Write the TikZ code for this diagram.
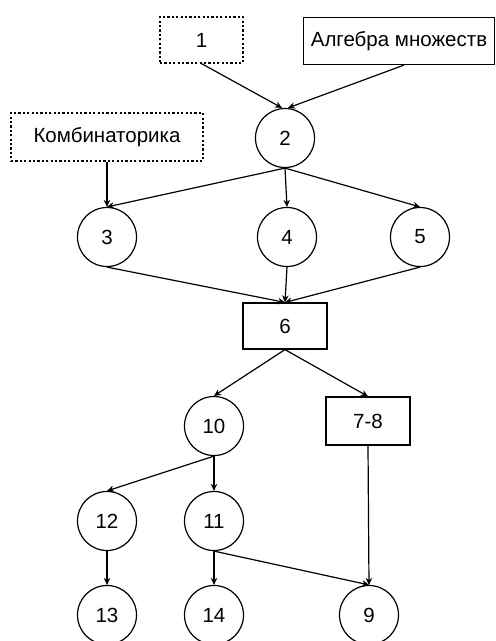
\documentclass[tikz,border=0pt]{standalone}
\usepackage{fontspec}
\setmainfont{Liberation Sans}
\usetikzlibrary{arrows.meta}
\begin{document}
\begin{tikzpicture}[x=1pt,y=-1pt,
  every node/.style={font=\fontsize{20.5}{24}\selectfont, line width=1.2pt},
  circ/.style={draw, circle, minimum size=59pt, inner sep=0pt},
  rbox/.style={draw, rectangle, inner sep=0pt},
  dbox/.style={draw, rectangle, inner sep=0pt, dash pattern=on 2.2pt off 2.2pt},
  arr/.style={-{Stealth[length=7pt,width=6.5pt]}, line width=1.2pt}]
\useasboundingbox (0,0) rectangle (496,641);
\node[dbox, minimum width=83pt, minimum height=46pt] (n1) at (201.5,40) {1};
\node[rbox, minimum width=191pt, minimum height=47pt] (alg) at (399,41) {Алгебра множеств};
\node[circ] (n2) at (285,138) {2};
\node[dbox, minimum width=192pt, minimum height=48pt] (komb) at (107,137) {Комбинаторика};
\node[circ] (n3) at (107,237) {3};
\node[circ] (n4) at (287,237) {4};
\node[circ] (n5) at (420,237) {5};
\node[rbox, minimum width=84pt, minimum height=46pt] (n6) at (285,326) {6};
\node[circ] (n10) at (214,426) {10};
\node[rbox, minimum width=84pt, minimum height=48pt] (n78) at (368,421) {7-8};
\node[circ] (n12) at (107,521) {12};
\node[circ] (n11) at (214,521) {11};
\node[circ] (n13) at (107,615) {13};
\node[circ] (n14) at (214,615) {14};
\node[circ] (n9) at (369,615) {9};
\draw[arr] (n1.south) -- ([xshift=-3pt]n2.north);
\draw[arr] ([xshift=5pt]alg.south) -- ([xshift=3pt]n2.north);
\draw[arr] (komb.south) -- (n3.north);
\draw[arr] (n2.south) -- (n3.north);
\draw[arr] (n2.south) -- (n4.north);
\draw[arr] (n2.south) -- (n5.north);
\draw[arr] (n3.south) -- (n6.north);
\draw[arr] (n4.south) -- (n6.north);
\draw[arr] (n5.south) -- (n6.north);
\draw[arr] (n6.south) -- (n10.north);
\draw[arr] (n6.south) -- (n78.north);
\draw[arr] (n10.south) -- (n12.north);
\draw[arr] (n10.south) -- (n11.north);
\draw[arr] (n12.south) -- (n13.north);
\draw[arr] (n11.south) -- (n14.north);
\draw[arr] (n11.south) -- (n9.north);
\draw[arr] (n78.south) -- (n9.north);
\end{tikzpicture}
\end{document}
